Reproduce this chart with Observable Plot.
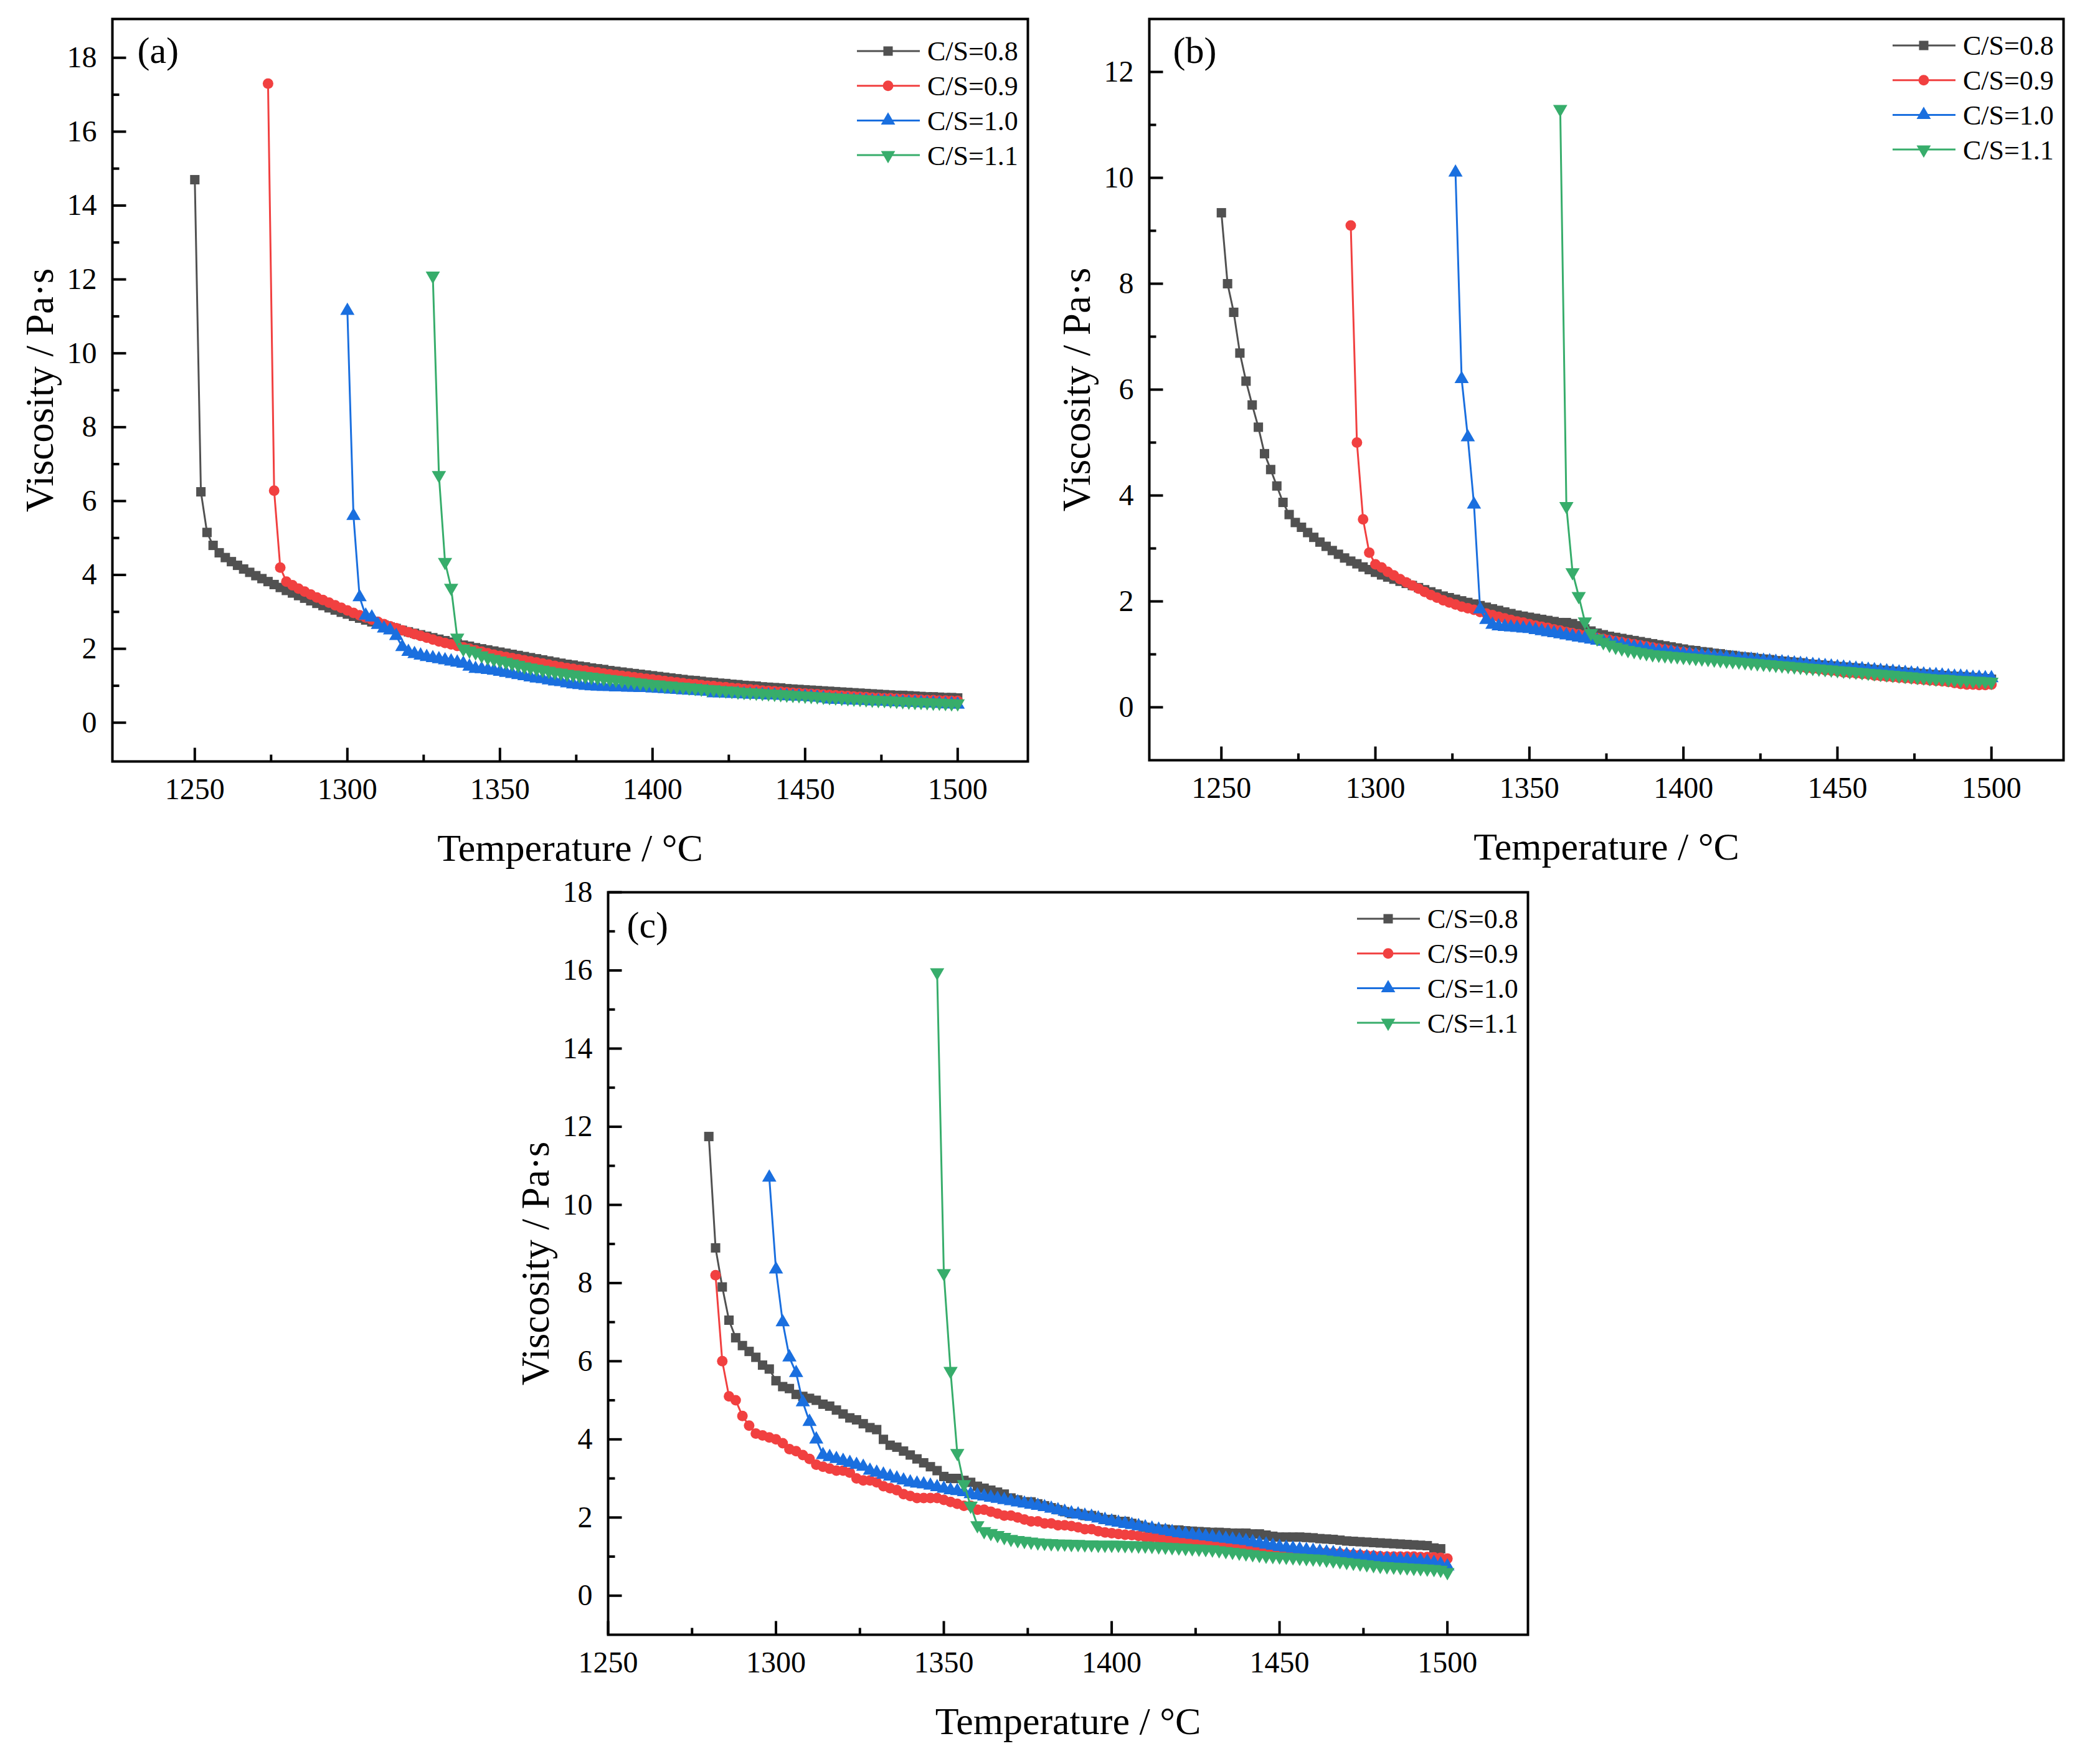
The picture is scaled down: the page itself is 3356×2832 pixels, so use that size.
<!DOCTYPE html>
<html>
<head>
<meta charset="utf-8">
<script src="https://cdn.jsdelivr.net/npm/d3@7"></script>
<script src="https://cdn.jsdelivr.net/npm/@observablehq/plot@0.6"></script>
<style>
  body { margin: 0; background: #fff; }
  #fig { position: relative; width: 3356px; height: 2832px; background: #fff; }
  .panel { position: absolute; }
</style>
</head>
<body>
<div id="fig"></div>
<script>
// series names, colours (Origin "colorful" palette)
const seriesNames = ["C/S=0.8", "C/S=0.9", "C/S=1.0", "C/S=1.1"];
const colors = ["#515151", "#F14040", "#1A6FDF", "#37AD6B"];
const stepT = 2; // measurements every 2 °C

// ---- panel (a) ----
const a08Start = 1250;
const a08 = [14.7, 6.25, 5.15, 4.8, 4.6, 4.47, 4.36, 4.26, 4.16, 4.07,
  3.98, 3.9, 3.82, 3.74, 3.66, 3.58, 3.51, 3.44, 3.37, 3.3,
  3.23, 3.17, 3.11, 3.05, 2.99, 2.94, 2.88, 2.83, 2.78, 2.73,
  2.68, 2.64, 2.59, 2.55, 2.5, 2.46, 2.42, 2.38, 2.34, 2.3,
  2.26, 2.22, 2.18, 2.14, 2.1, 2.07, 2.03, 2.0, 1.97, 1.94,
  1.91, 1.88, 1.85, 1.82, 1.79, 1.76, 1.73, 1.7, 1.67, 1.64,
  1.61, 1.58, 1.56, 1.53, 1.51, 1.48, 1.46, 1.44, 1.41, 1.39,
  1.37, 1.35, 1.33, 1.31, 1.29, 1.27, 1.25, 1.23, 1.21, 1.19,
  1.17, 1.15, 1.14, 1.12, 1.1, 1.09, 1.07, 1.06, 1.04, 1.03,
  1.01, 1.0, 0.99, 0.97, 0.96, 0.95, 0.94, 0.92, 0.91, 0.9,
  0.89, 0.88, 0.87, 0.86, 0.85, 0.84, 0.83, 0.82, 0.81, 0.8,
  0.79, 0.78, 0.77, 0.76, 0.75, 0.74, 0.74, 0.73, 0.72, 0.71,
  0.7, 0.7, 0.69, 0.68, 0.68, 0.67];
const a09Start = 1274;
const a09 = [17.3, 6.28, 4.2, 3.82, 3.72, 3.63, 3.55, 3.47, 3.39, 3.32,
  3.25, 3.18, 3.11, 3.04, 2.97, 2.91, 2.85, 2.79, 2.73, 2.67,
  2.61, 2.56, 2.5, 2.45, 2.4, 2.35, 2.3, 2.25, 2.2, 2.16,
  2.12, 2.08, 2.04, 2.0, 1.96, 1.92, 1.88, 1.84, 1.81, 1.78,
  1.75, 1.72, 1.69, 1.66, 1.63, 1.6, 1.57, 1.54, 1.51, 1.48,
  1.46, 1.43, 1.41, 1.38, 1.36, 1.33, 1.31, 1.29, 1.27, 1.25,
  1.23, 1.21, 1.19, 1.17, 1.15, 1.13, 1.11, 1.09, 1.07, 1.05,
  1.04, 1.02, 1.0, 0.99, 0.97, 0.96, 0.94, 0.93, 0.91, 0.9,
  0.89, 0.87, 0.86, 0.85, 0.84, 0.82, 0.81, 0.8, 0.79, 0.78,
  0.77, 0.76, 0.75, 0.74, 0.73, 0.72, 0.71, 0.7, 0.69, 0.68,
  0.67, 0.66, 0.66, 0.65, 0.64, 0.63, 0.63, 0.62, 0.61, 0.61,
  0.6, 0.6, 0.59, 0.59];
const a10Start = 1300;
const a10 = [11.15, 5.6, 3.4, 2.9, 2.85, 2.65, 2.55, 2.5, 2.35, 2.05,
  1.92, 1.86, 1.82, 1.78, 1.75, 1.72, 1.69, 1.66, 1.63, 1.6,
  1.52, 1.46, 1.45, 1.43, 1.41, 1.38, 1.35, 1.32, 1.29, 1.26,
  1.23, 1.2, 1.18, 1.15, 1.12, 1.1, 1.07, 1.04, 1.02, 1.0,
  0.99, 0.98, 0.97, 0.97, 0.96, 0.96, 0.95, 0.95, 0.94, 0.94,
  0.93, 0.92, 0.91, 0.9, 0.89, 0.88, 0.87, 0.86, 0.85, 0.84,
  0.8, 0.8, 0.79, 0.78, 0.78, 0.77, 0.76, 0.76, 0.75, 0.74,
  0.74, 0.73, 0.72, 0.71, 0.71, 0.7, 0.69, 0.68, 0.66, 0.63,
  0.62, 0.62, 0.61, 0.6, 0.6, 0.59, 0.58, 0.58, 0.57, 0.56,
  0.56, 0.55, 0.54, 0.54, 0.53, 0.52, 0.52, 0.51, 0.5, 0.5,
  0.49];
const a11Start = 1328;
const a11 = [12.1, 6.7, 4.35, 3.65, 2.3, 2.0, 1.95, 1.9, 1.82, 1.76,
  1.72, 1.68, 1.64, 1.6, 1.56, 1.52, 1.49, 1.46, 1.43, 1.4,
  1.37, 1.35, 1.32, 1.3, 1.28, 1.26, 1.24, 1.22, 1.2, 1.18,
  1.16, 1.14, 1.12, 1.1, 1.08, 1.06, 1.04, 1.03, 1.01, 1.0,
  0.98, 0.97, 0.95, 0.94, 0.92, 0.91, 0.9, 0.88, 0.87, 0.86,
  0.84, 0.83, 0.82, 0.81, 0.8, 0.79, 0.78, 0.77, 0.76, 0.75,
  0.74, 0.73, 0.72, 0.71, 0.7, 0.69, 0.68, 0.67, 0.66, 0.65,
  0.64, 0.63, 0.62, 0.61, 0.61, 0.6, 0.59, 0.58, 0.57, 0.56,
  0.56, 0.55, 0.54, 0.54, 0.53, 0.52, 0.52];

// ---- panel (b) ----
const b08Start = 1250;
const b08 = [9.34, 8.0, 7.46, 6.69, 6.16, 5.71, 5.29, 4.79, 4.49, 4.18,
  3.87, 3.64, 3.49, 3.4, 3.3, 3.21, 3.12, 3.04, 2.96, 2.89,
  2.82, 2.76, 2.71, 2.65, 2.6, 2.55, 2.5, 2.46, 2.42, 2.38,
  2.34, 2.3, 2.26, 2.22, 2.18, 2.14, 2.1, 2.07, 2.04, 2.01,
  1.98, 1.95, 1.92, 1.89, 1.86, 1.83, 1.8, 1.77, 1.74, 1.72,
  1.7, 1.68, 1.66, 1.64, 1.62, 1.6, 1.6, 1.58, 1.54, 1.48,
  1.44, 1.4, 1.37, 1.34, 1.32, 1.3, 1.28, 1.26, 1.24, 1.22,
  1.2, 1.18, 1.16, 1.14, 1.12, 1.1, 1.08, 1.07, 1.05, 1.04,
  1.02, 1.01, 0.99, 0.98, 0.96, 0.95, 0.94, 0.92, 0.91, 0.9,
  0.88, 0.87, 0.86, 0.85, 0.84, 0.82, 0.81, 0.8, 0.79, 0.78,
  0.77, 0.76, 0.75, 0.74, 0.73, 0.72, 0.71, 0.7, 0.69, 0.68,
  0.67, 0.66, 0.65, 0.64, 0.63, 0.62, 0.61, 0.6, 0.59, 0.58,
  0.58, 0.57, 0.56, 0.55, 0.54, 0.53];
const b09Start = 1292;
const b09 = [9.1, 5.0, 3.55, 2.92, 2.7, 2.64, 2.56, 2.49, 2.42, 2.36,
  2.3, 2.24, 2.18, 2.12, 2.07, 2.02, 1.98, 1.94, 1.9, 1.87,
  1.84, 1.8, 1.77, 1.74, 1.71, 1.68, 1.65, 1.62, 1.6, 1.57,
  1.54, 1.52, 1.5, 1.47, 1.45, 1.42, 1.4, 1.38, 1.36, 1.34,
  1.31, 1.29, 1.27, 1.25, 1.23, 1.21, 1.19, 1.17, 1.15, 1.13,
  1.11, 1.09, 1.07, 1.05, 1.04, 1.02, 1.0, 0.98, 0.97, 0.95,
  0.94, 0.92, 0.91, 0.89, 0.88, 0.86, 0.85, 0.84, 0.82, 0.81,
  0.8, 0.78, 0.77, 0.76, 0.74, 0.73, 0.72, 0.7, 0.69, 0.68,
  0.66, 0.65, 0.64, 0.63, 0.62, 0.6, 0.59, 0.58, 0.57, 0.56,
  0.55, 0.54, 0.53, 0.52, 0.51, 0.5, 0.49, 0.48, 0.46, 0.44,
  0.43, 0.43, 0.42, 0.42, 0.43];
const b10Start = 1326;
const b10 = [10.1, 6.2, 5.1, 3.83, 1.85, 1.65, 1.56, 1.53, 1.52, 1.51,
  1.5, 1.49, 1.48, 1.46, 1.44, 1.42, 1.4, 1.38, 1.36, 1.34,
  1.32, 1.3, 1.28, 1.26, 1.24, 1.22, 1.2, 1.18, 1.16, 1.14,
  1.12, 1.1, 1.08, 1.06, 1.05, 1.04, 1.02, 1.01, 1.0, 0.99,
  0.98, 0.97, 0.96, 0.95, 0.94, 0.93, 0.92, 0.91, 0.9, 0.89,
  0.88, 0.87, 0.86, 0.85, 0.84, 0.83, 0.82, 0.81, 0.8, 0.79,
  0.78, 0.77, 0.76, 0.75, 0.74, 0.73, 0.72, 0.71, 0.7, 0.69,
  0.68, 0.67, 0.66, 0.65, 0.64, 0.63, 0.62, 0.61, 0.61, 0.6,
  0.59, 0.58, 0.58, 0.57, 0.56, 0.56, 0.55, 0.55];
const b11Start = 1360;
const b11 = [11.3, 3.8, 2.55, 2.1, 1.62, 1.4, 1.3, 1.23, 1.18, 1.14,
  1.11, 1.08, 1.06, 1.04, 1.02, 1.0, 0.99, 0.98, 0.97, 0.96,
  0.95, 0.94, 0.93, 0.92, 0.91, 0.9, 0.89, 0.88, 0.87, 0.86,
  0.85, 0.84, 0.83, 0.82, 0.81, 0.8, 0.79, 0.78, 0.77, 0.76,
  0.75, 0.74, 0.73, 0.72, 0.71, 0.7, 0.69, 0.68, 0.67, 0.66,
  0.65, 0.64, 0.63, 0.62, 0.61, 0.6, 0.59, 0.58, 0.57, 0.56,
  0.55, 0.54, 0.54, 0.53, 0.52, 0.51, 0.51, 0.5, 0.5, 0.49,
  0.48];

// ---- panel (c) ----
const c08Start = 1280;
const c08 = [11.75, 8.9, 7.9, 7.05, 6.6, 6.4, 6.25, 6.1, 5.9, 5.8,
  5.5, 5.35, 5.3, 5.15, 5.1, 5.05, 5.0, 4.9, 4.85, 4.75,
  4.65, 4.55, 4.5, 4.4, 4.3, 4.25, 4.0, 3.85, 3.8, 3.7,
  3.6, 3.5, 3.4, 3.3, 3.2, 3.05, 3.0, 3.0, 2.95, 2.9,
  2.8, 2.75, 2.7, 2.65, 2.6, 2.5, 2.45, 2.4, 2.4, 2.35,
  2.3, 2.25, 2.2, 2.15, 2.1, 2.1, 2.05, 2.05, 2.0, 1.95,
  1.95, 1.9, 1.9, 1.85, 1.8, 1.75, 1.72, 1.7, 1.7, 1.68,
  1.68, 1.66, 1.65, 1.64, 1.63, 1.62, 1.62, 1.61, 1.6, 1.6,
  1.6, 1.58, 1.58, 1.55, 1.52, 1.5, 1.5, 1.5, 1.5, 1.49,
  1.48, 1.46, 1.45, 1.44, 1.42, 1.4, 1.39, 1.38, 1.37, 1.36,
  1.35, 1.34, 1.33, 1.32, 1.31, 1.3, 1.29, 1.28, 1.22, 1.2];
const c09Start = 1282;
const c09 = [8.2, 6.0, 5.1, 5.0, 4.6, 4.35, 4.15, 4.1, 4.05, 4.0,
  3.9, 3.75, 3.7, 3.6, 3.5, 3.35, 3.3, 3.25, 3.2, 3.2,
  3.15, 3.0, 2.95, 2.95, 2.9, 2.8, 2.75, 2.7, 2.6, 2.55,
  2.5, 2.5, 2.5, 2.5, 2.45, 2.4, 2.35, 2.3, 2.3, 2.2,
  2.2, 2.15, 2.1, 2.05, 2.05, 2.0, 1.95, 1.9, 1.9, 1.85,
  1.85, 1.8, 1.8, 1.78, 1.75, 1.7, 1.7, 1.65, 1.62, 1.6,
  1.58, 1.56, 1.55, 1.53, 1.5, 1.49, 1.47, 1.45, 1.44, 1.42,
  1.41, 1.39, 1.38, 1.36, 1.35, 1.33, 1.31, 1.29, 1.27, 1.25,
  1.23, 1.21, 1.19, 1.17, 1.15, 1.14, 1.13, 1.13, 1.12, 1.12,
  1.11, 1.1, 1.09, 1.08, 1.06, 1.05, 1.04, 1.03, 1.02, 1.01,
  1.0, 1.0, 1.0, 1.0, 1.0, 0.99, 0.99, 0.98, 0.97, 0.95];
const c10Start = 1298;
const c10 = [10.7, 8.35, 7.0, 6.1, 5.7, 4.95, 4.45, 4.0, 3.6, 3.55,
  3.5, 3.45, 3.4, 3.35, 3.3, 3.2, 3.15, 3.1, 3.05, 3.0,
  2.95, 2.9, 2.87, 2.85, 2.82, 2.78, 2.74, 2.7, 2.68, 2.65,
  2.6, 2.57, 2.54, 2.51, 2.48, 2.45, 2.42, 2.39, 2.36, 2.33,
  2.3, 2.27, 2.23, 2.19, 2.15, 2.11, 2.08, 2.05, 2.02, 1.98,
  1.94, 1.9, 1.87, 1.84, 1.81, 1.78, 1.75, 1.72, 1.69, 1.66,
  1.63, 1.6, 1.58, 1.56, 1.54, 1.52, 1.5, 1.48, 1.46, 1.44,
  1.42, 1.4, 1.37, 1.34, 1.31, 1.28, 1.25, 1.23, 1.21, 1.19,
  1.17, 1.15, 1.13, 1.11, 1.09, 1.07, 1.05, 1.03, 1.01, 0.99,
  0.97, 0.95, 0.94, 0.93, 0.92, 0.91, 0.9, 0.89, 0.87, 0.84,
  0.8, 0.75];
const c11Start = 1348;
const c11 = [15.95, 8.25, 5.75, 3.65, 2.85, 2.3, 1.8, 1.65, 1.6, 1.55,
  1.5, 1.45, 1.42, 1.4, 1.38, 1.36, 1.35, 1.34, 1.33, 1.33,
  1.32, 1.32, 1.31, 1.31, 1.3, 1.3, 1.3, 1.3, 1.29, 1.29,
  1.28, 1.28, 1.27, 1.26, 1.25, 1.24, 1.23, 1.22, 1.21, 1.2,
  1.19, 1.18, 1.16, 1.14, 1.12, 1.1, 1.08, 1.06, 1.04, 1.02,
  1.01, 1.0, 0.99, 0.98, 0.97, 0.96, 0.95, 0.94, 0.92, 0.9,
  0.88, 0.86, 0.84, 0.82, 0.8, 0.78, 0.76, 0.75, 0.74, 0.73,
  0.72, 0.71, 0.7, 0.69, 0.68, 0.66, 0.6];

// tick values
const xMajor = [1250, 1300, 1350, 1400, 1450, 1500];
const xMinor = [1275, 1325, 1375, 1425, 1475];
const yMajor18 = [0, 2, 4, 6, 8, 10, 12, 14, 16, 18];
const yMinor18 = [1, 3, 5, 7, 9, 11, 13, 15, 17];
const yMajor12 = [0, 2, 4, 6, 8, 10, 12];
const yMinor12 = [1, 3, 5, 7, 9, 11];

const toPoints = (start, values) => values.map((v, i) => ({T: start + stepT * i, V: v}));

// marker shapes: square, circle, up triangle, down triangle
const sqrt3 = Math.sqrt(3);
const triangleDown = {
  draw(ctx, size) {
    const y = Math.sqrt(size / (sqrt3 * 3));
    ctx.moveTo(0, y * 2);
    ctx.lineTo(-sqrt3 * y, -y);
    ctx.lineTo(sqrt3 * y, -y);
    ctx.closePath();
  }
};
const plotSymbols = ["square", "circle", "triangle", triangleDown];
const d3Symbols = [d3.symbolSquare, d3.symbolCircle, d3.symbolTriangle, triangleDown];

// inward tick marks drawn as custom symbols
const tickUp = len => ({draw(ctx) { ctx.moveTo(0, 0); ctx.lineTo(0, -len); }});
const tickRight = len => ({draw(ctx) { ctx.moveTo(0, 0); ctx.lineTo(len, 0); }});

const FONT = "'Liberation Serif', 'Times New Roman', serif";
const R = 8.5;

function drawPanel(cfg) {
  const marks = [];
  cfg.series.forEach((s, i) => {
    const pts = toPoints(s[0], s[1]);
    marks.push(Plot.line(pts, {x: "T", y: "V", stroke: colors[i], strokeWidth: 3}));
    marks.push(Plot.dot(pts, {x: "T", y: "V", fill: colors[i], stroke: "none", r: R, symbol: plotSymbols[i]}));
  });
  marks.push(
    Plot.dot(xMajor, {x: d => d, frameAnchor: "bottom", symbol: tickUp(22), fill: "none", stroke: "black", strokeWidth: 4}),
    Plot.dot(xMinor, {x: d => d, frameAnchor: "bottom", symbol: tickUp(11), fill: "none", stroke: "black", strokeWidth: 4}),
    Plot.dot(cfg.yMajor, {y: d => d, frameAnchor: "left", symbol: tickRight(22), fill: "none", stroke: "black", strokeWidth: 4}),
    Plot.dot(cfg.yMinor, {y: d => d, frameAnchor: "left", symbol: tickRight(11), fill: "none", stroke: "black", strokeWidth: 4}),
    Plot.frame({stroke: "black", strokeWidth: 4}),
    Plot.axisX({ticks: xMajor, tickSize: 0, tickPadding: 26, fontSize: 48, label: null, tickFormat: d3.format("d")}),
    Plot.axisY({ticks: cfg.yMajor, tickSize: 0, tickPadding: 25, fontSize: 48, label: null, tickFormat: d3.format("d")}),
    Plot.text(["Temperature / °C"], {frameAnchor: "bottom", dy: 140, fontSize: 62, lineAnchor: "middle", fill: "black"}),
    Plot.text(["Viscosity / Pa·s"], {frameAnchor: "left", dx: -116, rotate: -90, fontSize: 63, lineAnchor: "middle", textAnchor: "middle", fill: "black"}),
    Plot.text([cfg.tag], {frameAnchor: "top-left", dx: cfg.tagDx, dy: cfg.tagDy, fontSize: 60, lineAnchor: "middle", textAnchor: "start", fill: "black"})
  );

  const chart = Plot.plot({
    width: cfg.width,
    height: cfg.height,
    marginLeft: cfg.ml,
    marginRight: cfg.mr,
    marginTop: cfg.mt,
    marginBottom: cfg.mb,
    x: {domain: cfg.xDomain},
    y: {domain: cfg.yDomain},
    style: {fontFamily: FONT, fontSize: "48px", color: "black", background: "transparent", overflow: "visible"},
    marks
  });

  // legend, top right inside the frame
  const right = cfg.width - cfg.mr;
  const lg = d3.select(chart).append("g")
    .attr("font-family", FONT).attr("font-size", 44).attr("text-anchor", "start");
  seriesNames.forEach((name, i) => {
    const y = cfg.mt + cfg.legendTop + i * 55.7;
    lg.append("line").attr("x1", right - 274).attr("x2", right - 173).attr("y1", y).attr("y2", y)
      .attr("stroke", colors[i]).attr("stroke-width", 3);
    lg.append("path").attr("d", d3.symbol(d3Symbols[i], Math.PI * R * R)())
      .attr("transform", `translate(${right - 224},${y})`).attr("fill", colors[i]);
    lg.append("text").attr("x", right - 161).attr("y", y).attr("dy", "0.35em")
      .attr("text-anchor", "start").attr("fill", "black").text(name);
  });

  const holder = d3.select("#fig").append("div").attr("class", "panel")
    .style("left", cfg.left + "px").style("top", cfg.top + "px");
  holder.append(() => chart);
}

drawPanel({
  tag: "(a)", left: 0, top: 0, width: 1700, height: 1400, ml: 180, mr: 50, mt: 30, mb: 178,
  xDomain: [1223, 1523], yDomain: [-1.05, 19.05], yMajor: yMajor18, yMinor: yMinor18,
  tagDx: 40, tagDy: 51, legendTop: 52,
  series: [[a08Start, a08], [a09Start, a09], [a10Start, a10], [a11Start, a11]]
});
drawPanel({
  tag: "(b)", left: 1680, top: 0, width: 1676, height: 1400, ml: 165, mr: 43, mt: 30, mb: 180,
  xDomain: [1226.6, 1523.4], yDomain: [-1, 13], yMajor: yMajor12, yMinor: yMinor12,
  tagDx: 38, tagDy: 51, legendTop: 43,
  series: [[b08Start, b08], [b09Start, b09], [b10Start, b10], [b11Start, b11]]
});
drawPanel({
  tag: "(c)", left: 800, top: 1400, width: 1700, height: 1432, ml: 176, mr: 47, mt: 32, mb: 208,
  xDomain: [1250, 1524], yDomain: [-1, 18], yMajor: yMajor18, yMinor: yMinor18,
  tagDx: 30, tagDy: 53, legendTop: 43,
  series: [[c08Start, c08], [c09Start, c09], [c10Start, c10], [c11Start, c11]]
});
</script>
</body>
</html>
